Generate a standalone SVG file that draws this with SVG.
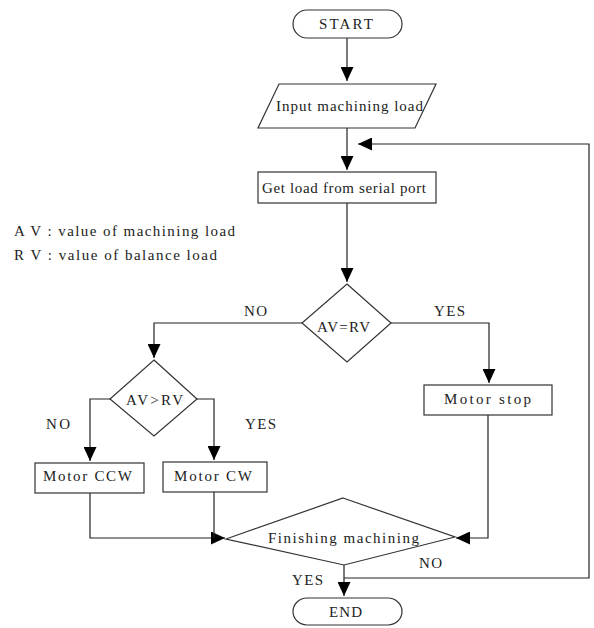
<svg xmlns="http://www.w3.org/2000/svg" width="594" height="628" viewBox="0 0 594 628">
<style>
.s{fill:#fff;stroke:#333;stroke-width:1.2}
.c{fill:none;stroke:#222;stroke-width:1.2}
text{font-family:"Liberation Serif","DejaVu Serif",serif;font-size:15px;fill:#222}
</style>
<defs>
<marker id="ah" markerUnits="userSpaceOnUse" markerWidth="14" markerHeight="13" refX="14" refY="6.5" orient="auto">
<path d="M0,0 L14,6.5 L0,13 z" fill="#000"/>
</marker>
</defs>
<rect width="594" height="628" fill="#fff"/>
<g id="legend">
<text x="14" y="236" textLength="221">A V : value of machining load</text>
<text x="14" y="260" textLength="203">R V : value of balance load</text>
</g>
<g id="connectors">
<path class="c" d="M347,38 V81" marker-end="url(#ah)"/>
<path class="c" d="M347,128 V170" marker-end="url(#ah)"/>
<path class="c" d="M344,578 H589 V144 H358" marker-end="url(#ah)"/>
<path class="c" d="M347,203 V282" marker-end="url(#ah)"/>
<path class="c" d="M391,323 H489 V383" marker-end="url(#ah)"/>
<path class="c" d="M302,323 H154 V358" marker-end="url(#ah)"/>
<path class="c" d="M110,399 H90 V461" marker-end="url(#ah)"/>
<path class="c" d="M197,399 H214 V460" marker-end="url(#ah)"/>
<path class="c" d="M90,493 V538 H225" marker-end="url(#ah)"/>
<path class="c" d="M214,492 V538"/>
<path class="c" d="M488,415 V538 H456" marker-end="url(#ah)"/>
<path class="c" d="M344,565 V596" marker-end="url(#ah)"/>
<text x="244" y="316" textLength="23">NO</text>
<text x="434" y="316" textLength="31">YES</text>
<text x="46" y="429" textLength="24">NO</text>
<text x="245" y="429" textLength="31">YES</text>
<text x="419" y="568" textLength="23">NO</text>
<text x="292" y="585" textLength="31">YES</text>
</g>
<g id="start">
<rect class="s" x="293" y="10" width="109" height="28" rx="14" ry="14"/>
<text x="319" y="29" textLength="54">START</text>
</g>
<g id="input">
<polygon class="s" points="279,84 436,84 415,128 258,128"/>
<text x="276" y="111" textLength="147">Input machining load</text>
</g>
<g id="getload">
<rect class="s" x="258" y="172" width="178" height="31"/>
<text x="262" y="193" textLength="164">Get load from serial port</text>
</g>
<g id="avrv_eq">
<polygon class="s" points="347,284 391,323 347,362 302,323"/>
<text x="317" y="332" textLength="53">AV=RV</text>
</g>
<g id="motorstop">
<rect class="s" x="424" y="385" width="128" height="30"/>
<text x="444" y="404" textLength="87">Motor stop</text>
</g>
<g id="avrv_gt">
<polygon class="s" points="154,360 197,399 154,436 110,399"/>
<text x="126" y="405" textLength="57">AV&gt;RV</text>
</g>
<g id="motorccw">
<rect class="s" x="35" y="463" width="109" height="30"/>
<text x="43" y="481" textLength="89">Motor CCW</text>
</g>
<g id="motorcw">
<rect class="s" x="163" y="462" width="104" height="30"/>
<text x="174" y="481" textLength="78">Motor CW</text>
</g>
<g id="finish">
<polygon class="s" points="343,498 455,537 344,565 226,539"/>
<text x="268" y="543" textLength="151">Finishing machining</text>
</g>
<g id="end">
<rect class="s" x="293" y="598" width="109" height="27" rx="14" ry="13.5"/>
<text x="329" y="617" textLength="33">END</text>
</g>
</svg>
